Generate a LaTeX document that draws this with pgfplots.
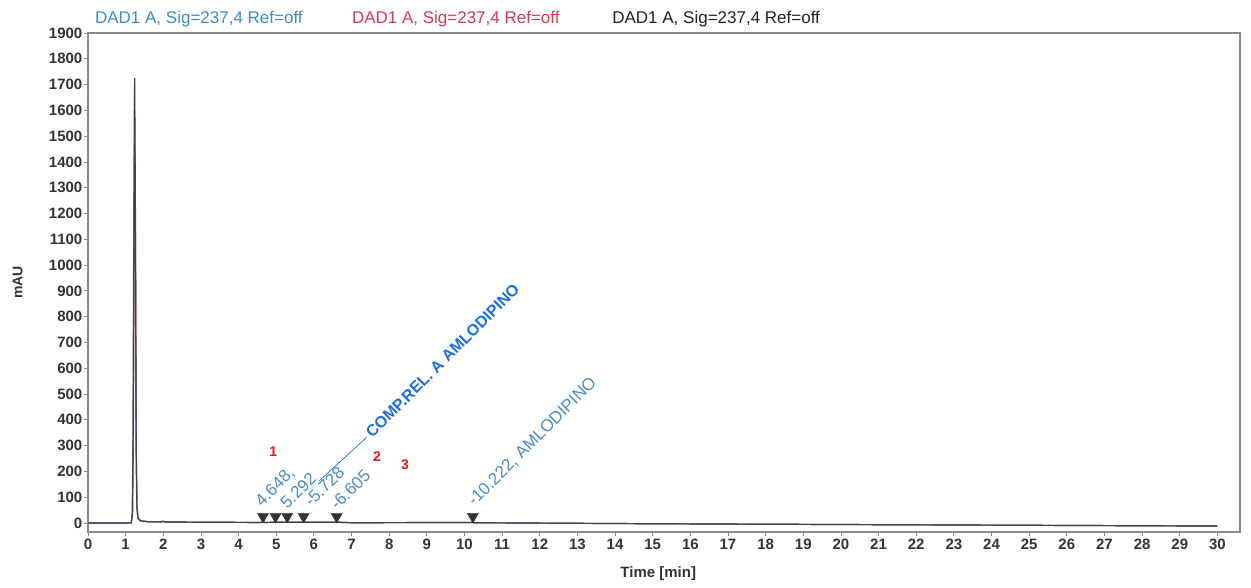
\documentclass[border=0pt]{standalone}
\usepackage{pgfplots}
\pgfplotsset{compat=1.18}
\usepackage{fontspec}
\setmainfont{Liberation Sans}
\newfontfamily\tickf[UprightFont=* Bold]{Liberation Sans}
\definecolor{tblue}{HTML}{3F8CC4}
\definecolor{tred}{HTML}{D23A52}
\definecolor{tblack}{HTML}{222222}
\definecolor{lblue}{HTML}{4A8CC0}
\definecolor{cblue}{HTML}{1A6FE6}
\definecolor{nred}{HTML}{E8141C}
\definecolor{axgray}{HTML}{8A8A8A}
\begin{document}
\begin{tikzpicture}
\begin{axis}[
  at={(0pt,0pt)}, anchor=south west,
  scale only axis, width=1152pt, height=499pt,
  xmin=0, xmax=30.6, ymin=-35, ymax=1900,
  xtick={0,1,...,30}, ytick={0,100,...,1900},
  tick align=outside, xtick pos=bottom, ytick pos=left,
  major tick length=4pt,
  tick style={axgray, line width=0.8pt},
  axis line style={axgray, line width=1.2pt},
  /pgf/number format/assume math mode=true,
  /pgf/number format/1000 sep={},
  ticklabel style={font=\tickf\fontsize{15}{16}\selectfont, text=black!80},
  yticklabel style={inner sep=1.5pt},
  xticklabel style={inner sep=3pt},
  xlabel={Time [min]},
  ylabel={mAU},
  xlabel style={font=\tickf\fontsize{15}{16}\selectfont, text=black!80, at={(axis description cs:0.495,-0.084)}, anchor=center},
  ylabel style={font=\tickf\fontsize{14}{15}\selectfont, text=black!80, at={(axis description cs:-0.061,0.5)}, anchor=center},
  clip=false,
]
% red trace
\addplot[tred, line width=1.2pt] coordinates {
(0,0)(1.0,0)(1.15,1)(1.185,30)(1.205,300)(1.225,950)(1.245,1460)(1.265,1000)(1.285,250)(1.305,55)(1.335,16)(1.40,8)(1.6,5)(1.95,4)(2.0,6)(2.05,4)(3,3)(4.6,2)(4.65,4)(4.7,2)(5,3)(5.3,3)(5.73,3)(6.6,3)(7,1)(10.2,2)(10.25,1)(15,-3)(20,-6)(25,-9)(30,-12)};
% blue trace
\addplot[tblue, line width=1.2pt] coordinates {
(0,0)(1.0,0)(1.15,1)(1.175,40)(1.195,350)(1.215,1150)(1.235,1705)(1.255,1200)(1.275,300)(1.295,60)(1.325,18)(1.40,8)(1.6,5)(1.95,4)(2.0,7)(2.05,4)(3,3)(4.6,2)(4.65,4)(4.7,2)(5,3)(5.3,3)(5.73,3)(6.6,3)(7,1)(10.2,2)(10.25,1)(15,-3)(20,-6)(25,-9)(30,-12)};
% black trace
\addplot[tblack!85, line width=1.2pt] coordinates {
(0,0)(1.0,0)(1.15,1)(1.18,40)(1.20,350)(1.22,1150)(1.24,1725)(1.26,1200)(1.28,300)(1.30,60)(1.33,18)(1.40,8)(1.6,5)(1.95,4)(2.0,7)(2.05,4)(3,3)(4.6,2)(4.65,4)(4.7,2)(5,3)(5.3,3)(5.73,3)(6.6,3)(7,1)(10.2,2)(10.25,1)(15,-3)(20,-6)(25,-9)(30,-12)};
% peak markers
\addplot[only marks, mark=triangle*, mark size=6.5pt, mark options={rotate=180, fill=black!80, draw=black!80}] coordinates {
(4.648,25)(4.98,25)(5.292,25)(5.728,25)(6.605,25)(10.222,25)};
% leader line
\draw[cblue, line width=0.7pt] (axis cs:6.14,163) -- (axis cs:7.41,333);
% peak labels
\begin{scope}[every node/.style={rotate=45, anchor=base west, inner sep=0pt, text=lblue, font=\fontsize{17}{18}\selectfont}]
\node at (axis cs:4.62,60) {4.648,};
\node at (axis cs:5.29,50) {5.292};
\node at (axis cs:5.93,58) {-5.728};
\node at (axis cs:6.62,46) {-6.605};
\node at (axis cs:10.26,62) {-10.222, AMLODIPINO};
\end{scope}
\node[rotate=45, anchor=base west, inner sep=0pt, text=cblue, font=\bfseries\fontsize{16}{17}\selectfont] at (axis cs:7.55,326) {COMP.REL. A AMLODIPINO};
% red numbers
\begin{scope}[every node/.style={text=nred, font=\bfseries\fontsize{14}{15}\selectfont}]
\node at (axis cs:4.92,275) {1};
\node at (axis cs:7.68,256) {2};
\node at (axis cs:8.42,225) {3};
\end{scope}
% titles
\node[anchor=base west, inner sep=0pt, text=tblue, font=\fontsize{17}{18}\selectfont] at (axis description cs:0.006,1.02) {DAD1 A, Sig=237,4 Ref=off};
\node[anchor=base west, inner sep=0pt, text=tred, font=\fontsize{17}{18}\selectfont] at (axis description cs:0.229,1.02) {DAD1 A, Sig=237,4 Ref=off};
\node[anchor=base west, inner sep=0pt, text=tblack, font=\fontsize{17}{18}\selectfont] at (axis description cs:0.455,1.02) {DAD1 A, Sig=237,4 Ref=off};
\end{axis}
\pgfresetboundingbox
\useasboundingbox (-88pt,-55pt) rectangle (1163pt,532pt);
\end{tikzpicture}
\end{document}
